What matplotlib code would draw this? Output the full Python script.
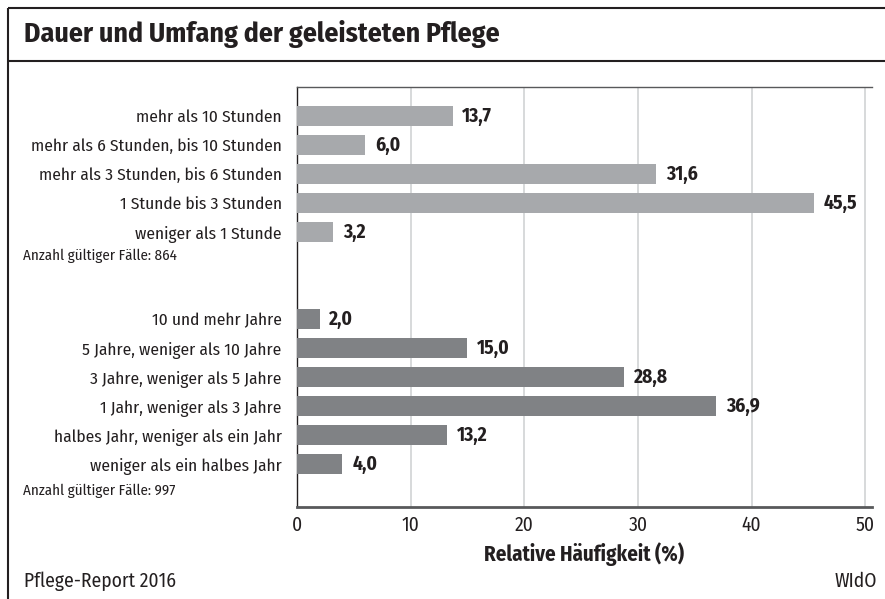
import matplotlib.pyplot as plt
from matplotlib.lines import Line2D

# data
hours_labels = ["mehr als 10 Stunden", "mehr als 6 Stunden, bis 10 Stunden",
                "mehr als 3 Stunden, bis 6 Stunden", "1 Stunde bis 3 Stunden",
                "weniger als 1 Stunde"]
hours_values = [13.7, 6.0, 31.6, 45.5, 3.2]
years_labels = ["10 und mehr Jahre", "5 Jahre, weniger als 10 Jahre",
                "3 Jahre, weniger als 5 Jahre", "1 Jahr, weniger als 3 Jahre",
                "halbes Jahr, weniger als ein Jahr", "weniger als ein halbes Jahr"]
years_values = [2.0, 15.0, 28.8, 36.9, 13.2, 4.0]
x_ticks = [0, 10, 20, 30, 40, 50]

plt.rcParams['font.family'] = ['Fira Sans Condensed', 'DejaVu Sans']
txt = '#231f20'

fig = plt.figure(figsize=(8.85, 5.99), dpi=100)
ax = fig.add_axes([297/885, 1-507/599, (872-297)/885, (507-87)/599])

pos_h = list(range(len(hours_values)))
pos_y = [7 + i for i in range(len(years_values))]

ax.barh(pos_h, hours_values, height=0.68, color='#a7a9ac', zorder=3)
ax.barh(pos_y, years_values, height=0.68, color='#808285', zorder=3)

for p, v in zip(pos_h + pos_y, hours_values + years_values):
    ax.annotate(f"{v:.1f}".replace('.', ','), (v, p), xytext=(7, 0),
                textcoords='offset points', va='center', ha='left',
                fontsize=14, fontweight='bold', color=txt)

ax.set_yticks(pos_h + pos_y)
ax.set_yticklabels(hours_labels + years_labels, fontsize=12.5, color=txt)
ax.set_xticks(x_ticks)
ax.set_xticklabels([str(t) for t in x_ticks], fontsize=14, color=txt)
ax.tick_params(axis='y', length=0, pad=11)
ax.tick_params(axis='x', length=0, pad=6)
ax.set_xlim(0, 50.6)
ax.set_ylim(13.48, -1)
ax.grid(axis='x', color='#d1d3d4', lw=1.2, zorder=0)
ax.set_xlabel("Relative Häufigkeit (%)", fontsize=15, fontweight='bold',
              color=txt, labelpad=5)

ax.spines['right'].set_visible(False)
ax.spines['left'].set_color(txt)
ax.spines['left'].set_linewidth(1)
ax.spines['bottom'].set_color('#58595b')
ax.spines['bottom'].set_linewidth(2)
ax.spines['top'].set_color('#58595b')
ax.spines['top'].set_linewidth(1)

fig.text(23/885, 1-256/599, "Anzahl gültiger Fälle: 864", fontsize=10.8,
         color=txt, va='center')
fig.text(23/885, 1-491/599, "Anzahl gültiger Fälle: 997", fontsize=10.8,
         color=txt, va='center')

fig.text(24/885, 1-34/599, "Dauer und Umfang der geleisteten Pflege",
         fontsize=20, fontweight='bold', color=txt, va='center')
fig.text(24/885, 1-581/599, "Pflege-Report 2016", fontsize=14,
         color=txt, va='center')
fig.text(877/885, 1-581/599, "WIdO", fontsize=14, color=txt,
         va='center', ha='right')

# frame
fig.add_artist(Line2D([8/885, 885/885], [1-8/599, 1-8/599], color=txt,
                      lw=1.5, solid_capstyle='butt'))
fig.add_artist(Line2D([8/885, 885/885], [1-61/599, 1-61/599], color=txt,
                      lw=1.5, solid_capstyle='butt'))
fig.add_artist(Line2D([8/885, 8/885], [0, 1-8/599], color=txt, lw=1.5,
                      solid_capstyle='butt'))

fig.savefig("out.png", dpi=100)
